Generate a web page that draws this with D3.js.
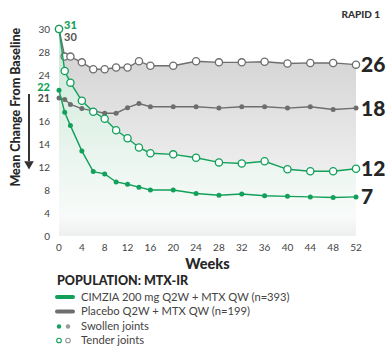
<!DOCTYPE html>
<html><head><meta charset="utf-8">
<script src="https://cdn.jsdelivr.net/npm/d3@7"></script>
<style>
html,body{margin:0;padding:0;background:#fff;}
svg{display:block;font-family:Lato, "Open Sans", sans-serif;}
</style></head>
<body><svg id="c" width="390" height="356"></svg>
<script>
// ---- data ----
const weeks = [0,1,2,4,6,8,10,12,14,16,20,24,28,32,36,40,44,48,52];
const cimziaTender  = [31,24.7,23.0,20.4,18.0,16.5,15.2,14.5,13.7,13.2,13.1,12.8,12.4,12.3,12.5,11.6,11.25,11.25,11.7];
const cimziaSwollen = [22,17.9,15.6,13.4,11.2,10.8,9.4,9.0,8.5,8.0,8.0,7.4,7.1,7.3,7.0,6.9,6.8,6.7,6.8];
const placeboTender = [30,27.2,27.2,26.2,25.0,25.0,25.3,25.3,26.4,25.6,25.6,26.4,26.2,26.2,26.3,26.0,26.1,26.1,25.8];
const placeboSwollen= [21,20.7,19.6,18.7,18.2,17.7,17.7,18.9,19.8,19.1,19.1,19.1,18.8,19.1,19.1,18.8,19.1,18.5,18.8];
const yBreaks = [0,4,8,12,14,16,21,24,28,30];
const yTickLabels = [0,4,8,12,14,16,24,28,30];
const xTicks = [0,4,8,12,16,20,24,28,32,36,40,44,48,52];
const endLabels = {cimziaTender:"12", cimziaSwollen:"7", placeboTender:"26", placeboSwollen:"18"};
const startLabels = {cimziaTender:"31", placeboTender:"30", cimziaSwollen:"22", placeboSwollen:"21"};
const legendItems = ["CIMZIA 200 mg Q2W + MTX QW (n=393)","Placebo Q2W + MTX QW (n=199)","Swollen joints","Tender joints"];

const GREEN="#12a05a", GRAY="#6e6e6e", DARK="#262626";
const svg = d3.select("#c");
const pLeft=59, pRight=356, pTop=29, pBottom=236;
const step=(pBottom-pTop)/(yBreaks.length-1);
const x = d3.scaleLinear().domain([0,52]).range([pLeft,pRight]);
const y = d3.scaleLinear().domain(yBreaks).range(yBreaks.map((d,i)=>pBottom-i*step)).clamp(true);

const defs = svg.append("defs");
const gg = defs.append("linearGradient").attr("id","gGray").attr("gradientUnits","userSpaceOnUse")
  .attr("x1",0).attr("x2",0).attr("y1",pTop).attr("y2",pBottom);
[[0,"#d0d0d0"],[0.25,"#dadada"],[0.6,"#eaeaea"],[0.88,"#f5f5f5"],[1,"#eaeaea"]].forEach(s=>gg.append("stop").attr("offset",s[0]).attr("stop-color",s[1]));
const gr = defs.append("linearGradient").attr("id","gGreen").attr("gradientUnits","userSpaceOnUse")
  .attr("x1",0).attr("x2",0).attr("y1",pTop).attr("y2",pBottom);
[[0,"#c6e6d5"],[0.35,"#dcefe4"],[0.7,"#eef7f2"],[0.9,"#f8fbf9"],[1,"#eef0ef"]].forEach(s=>gr.append("stop").attr("offset",s[0]).attr("stop-color",s[1]));

const area = d3.area().x((d,i)=>x(weeks[i])).y0(y(0)).y1(d=>y(d));
svg.append("path").datum(placeboTender).attr("d",area).attr("fill","url(#gGray)");
svg.append("path").datum(cimziaTender).attr("d",area).attr("fill","url(#gGreen)");

// y ticks
svg.append("g").selectAll("text").data(yTickLabels).join("text")
  .attr("x",pLeft-9).attr("y",d=>y(d)).attr("dy","0.35em").attr("text-anchor","end")
  .attr("font-size",10).attr("fill","#444").text(d=>d);
// x ticks
svg.append("g").selectAll("text").data(xTicks).join("text")
  .attr("x",d=>x(d)).attr("y",pBottom+11).attr("dy","0.35em").attr("text-anchor","middle")
  .attr("font-size",10).attr("fill","#444").text(d=>d);
svg.append("text").attr("x",x(26)).attr("y",pBottom+28).attr("dy","0.35em").attr("text-anchor","middle")
  .attr("font-size",14.5).attr("font-weight",900).attr("fill",DARK).text("Weeks");

// y title + arrow
svg.append("text").attr("transform",`translate(20,${y(19)}) rotate(-90)`).attr("text-anchor","middle")
  .attr("font-size",12.5).attr("font-weight",900).attr("fill",DARK).text("Mean Change From Baseline");
svg.append("line").attr("x1",29).attr("x2",29).attr("y1",y(21)-4).attr("y2",y(12)-6).attr("stroke","#333").attr("stroke-width",2);
svg.append("path").attr("d",d3.symbol(d3.symbolTriangle,40)()).attr("transform",`translate(29,${y(12)-3}) rotate(180)`).attr("fill","#333");

// lines
const line = d3.line().x((d,i)=>x(weeks[i])).y(d=>y(d));
const series=[
  {k:"placeboTender",v:placeboTender,c:GRAY,open:true},
  {k:"placeboSwollen",v:placeboSwollen,c:GRAY,open:false},
  {k:"cimziaSwollen",v:cimziaSwollen,c:GREEN,open:false},
  {k:"cimziaTender",v:cimziaTender,c:GREEN,open:true},
];
series.forEach(s=>{
  svg.append("path").datum(s.v).attr("d",line).attr("fill","none").attr("stroke",s.c).attr("stroke-width",1.4);
  svg.append("g").selectAll("circle").data(s.v).join("circle")
    .attr("cx",(d,i)=>x(weeks[i])).attr("cy",d=>y(d))
    .attr("r",s.open?3.6:2.5).attr("fill",s.open?"#fff":s.c)
    .attr("stroke",s.open?s.c:"none").attr("stroke-width",1.3);
});

// end labels
series.forEach(s=>{
  svg.append("text").attr("x",pRight+5).attr("y",y(s.v[s.v.length-1])).attr("dy","0.36em")
    .attr("font-size",21).attr("font-weight",900).attr("fill",DARK).text(endLabels[s.k]);
});
// start labels
svg.append("text").attr("x",x(0)+5).attr("y",y(cimziaTender[0])-4).attr("dy","0.35em")
  .attr("font-size",11).attr("font-weight",900).attr("fill",GREEN).text(startLabels.cimziaTender);
svg.append("text").attr("x",x(0)+5).attr("y",y(placeboTender[0])+8).attr("dy","0.35em")
  .attr("font-size",11).attr("font-weight",700).attr("fill","#555").text(startLabels.placeboTender);
svg.append("text").attr("x",pLeft-9).attr("y",y(cimziaSwollen[0])-3).attr("dy","0.35em").attr("text-anchor","end")
  .attr("font-size",11).attr("font-weight",900).attr("fill",GREEN).text(startLabels.cimziaSwollen);
svg.append("text").attr("x",pLeft-9).attr("y",y(placeboSwollen[0])).attr("dy","0.35em").attr("text-anchor","end")
  .attr("font-size",10.5).attr("font-weight",700).attr("fill","#444").text(startLabels.placeboSwollen);

svg.append("text").attr("x",380).attr("y",14).attr("dy","0.35em").attr("text-anchor","end")
  .attr("font-size",10).attr("font-weight",900).attr("fill","#333").text("RAPID 1");

// legend
svg.append("text").attr("x",57).attr("y",281).attr("dy","0.35em")
  .attr("font-size",12.5).attr("font-weight",900).attr("fill",DARK).text("POPULATION: MTX-IR");
const ly=[297,311.5,326.5,340.5];
svg.append("line").attr("x1",57).attr("x2",73).attr("y1",ly[0]).attr("y2",ly[0]).attr("stroke",GREEN).attr("stroke-width",4).attr("stroke-linecap","round");
svg.append("line").attr("x1",57).attr("x2",73).attr("y1",ly[1]).attr("y2",ly[1]).attr("stroke",GRAY).attr("stroke-width",4).attr("stroke-linecap","round");
svg.append("circle").attr("cx",59).attr("cy",ly[2]).attr("r",2.2).attr("fill",GREEN);
svg.append("circle").attr("cx",68).attr("cy",ly[2]).attr("r",2.2).attr("fill","#999");
svg.append("circle").attr("cx",59).attr("cy",ly[3]).attr("r",2.3).attr("fill","#fff").attr("stroke",GREEN).attr("stroke-width",1.1);
svg.append("circle").attr("cx",68).attr("cy",ly[3]).attr("r",2.3).attr("fill","#fff").attr("stroke","#999").attr("stroke-width",1.1);
svg.append("g").selectAll("text").data(legendItems).join("text")
  .attr("x",81).attr("y",(d,i)=>ly[i]).attr("dy","0.35em")
  .attr("font-size",11.2).attr("font-weight",400).attr("fill","#444").text(d=>d);
</script></body></html>
